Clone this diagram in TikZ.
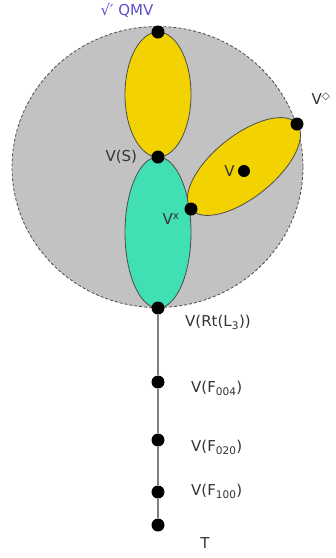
\documentclass[tikz,border=0pt]{standalone}
\usepackage{fontspec}
\setmainfont{DejaVu Sans}
\usepackage{tikz}
\usetikzlibrary{positioning}
\definecolor{discgray}{HTML}{C2C2C2}
\definecolor{petalyellow}{HTML}{F2D200}
\definecolor{petalteal}{HTML}{40E0B4}
\definecolor{labelgray}{HTML}{333333}
\definecolor{toplabel}{HTML}{5A4FCF}
\tikzset{
	dot/.style={circle, fill=black, inner sep=0pt, minimum size=13pt}, % the black vertices
	lbl/.style={text=labelgray, inner sep=1pt, font=\fontsize{15}{18}\selectfont}, % vertex labels
	petal/.style={draw=black!70, line width=0.8pt}, % outlines of the lobes
	stem/.style={draw=gray, line width=2pt}, % the chain below the disc
}

\begin{document}
\begin{tikzpicture}[x=1pt, y=-1pt]
	\useasboundingbox (0,0) rectangle (336,558);
	% disc and lobes
	\fill[discgray, draw=black!70, line width=0.8pt, densely dashed] (157.5,167) ellipse [x radius=145.5, y radius=140.5];
	\filldraw[petal, fill=petalyellow] (158,94.5) ellipse [x radius=33, y radius=62.5];
	\filldraw[petal, fill=petalteal] (158,232.5) ellipse [x radius=33, y radius=75.5];
	\filldraw[petal, fill=petalyellow, rotate around={38.7:(244,166.5)}] (244,166.5) ellipse [x radius=68, y radius=31];
	% vertices
	\node[dot] (qmv) at (158,32) {};
	\node[dot] (s) at (158,157) {};
	\node[dot] (rt) at (158,308) {};
	\node[dot] (vx) at (191,209) {};
	\node[dot] (vd) at (297,124) {};
	\node[dot, minimum size=12pt] (v) at (244,171) {};
	\node[dot] (f004) at (158,382) {};
	\node[dot] (f020) at (158,440) {};
	\node[dot] (f100) at (158,492) {};
	\node[dot] (t) at (158,525) {};
	\draw[stem] (rt) -- (f004) -- (f020) -- (f100) -- (t);
	% labels
	\node[lbl, text=toplabel] (qmvlbl) at (127,10) {√′ QMV};
	\node[lbl, left=13pt of s] (slbl) {V(S)};
	\node[lbl, left=2pt of v] (vlbl) {V};
	\node[lbl] (vxlbl) at (171,219) {V\textsuperscript{x}};
	\node[lbl] (vdlbl) at (321,99) {V\textsuperscript{◇}};
	\node[lbl, anchor=west] (rtlbl) at (184,322) {V(Rt(L\textsubscript{3}))};
	\node[lbl, anchor=west] (f004lbl) at (190,388) {V(F\textsubscript{004})};
	\node[lbl, anchor=west] (f020lbl) at (190,447) {V(F\textsubscript{020})};
	\node[lbl, anchor=west] (f100lbl) at (190,491) {V(F\textsubscript{100})};
	\node[lbl] (tlbl) at (205,543) {T};
\end{tikzpicture}
\end{document}
